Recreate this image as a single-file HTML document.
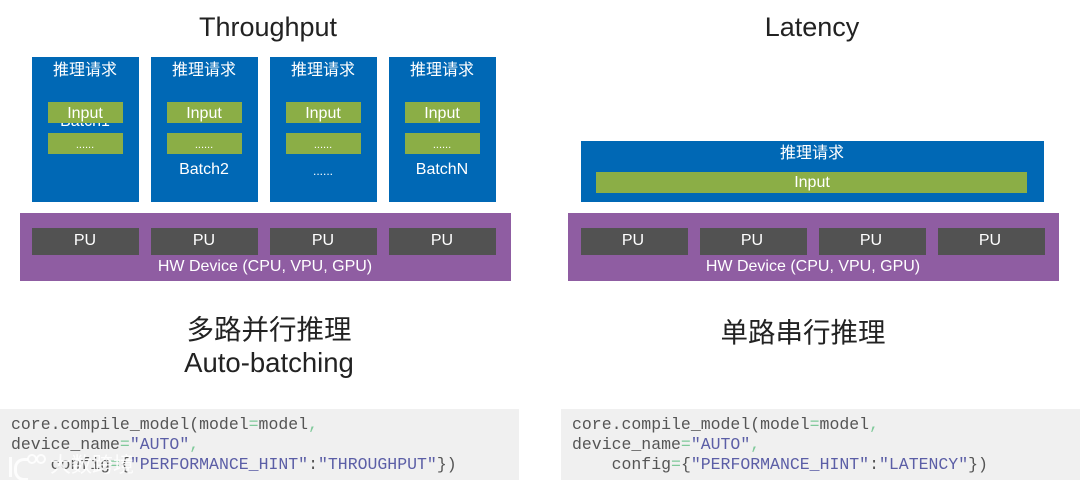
<!DOCTYPE html>
<html><head><meta charset="utf-8">
<style>
html,body{margin:0;padding:0;background:#fff}
#p{position:relative;width:1080px;height:484px;overflow:hidden;background:#fff;font-family:"Liberation Sans","Noto Sans CJK SC",sans-serif;filter:blur(.35px)}
.a{position:absolute}
.t{position:absolute;text-align:center;white-space:nowrap;transform:translateX(-50%)}
.b{position:absolute;background:#0068b5}
.g{position:absolute;background:#8bae46}
.u{position:absolute;background:#525252;top:228px;width:107px;height:27px}
.v{position:absolute;background:#8f5da2;top:213px;width:491px;height:68px}
.w{color:#fff;font-size:16px;line-height:20px}
.c{position:absolute;background:#f0f0f0;top:409px;width:519px;height:71px}
.code{position:absolute;font:16.5px/20px "Liberation Mono",monospace;color:#555;white-space:pre}
.n{color:#5b5ea6}.e{color:#7fc99a}
</style></head><body><div id="p">
<div class="t" style="left:268px;top:10px;font-size:27px;line-height:34px;color:#222">Throughput</div>
<div class="t" style="left:812px;top:10px;font-size:27px;line-height:34px;color:#222">Latency</div>

<div class="b" style="left:32px;top:57px;width:107px;height:145px"></div>
<div class="b" style="left:151px;top:57px;width:107px;height:145px"></div>
<div class="b" style="left:270px;top:57px;width:107px;height:145px"></div>
<div class="b" style="left:389px;top:57px;width:107px;height:145px"></div>
<div class="t w" style="left:85px;top:61px">推理请求</div>
<div class="t w" style="left:204px;top:61px">推理请求</div>
<div class="t w" style="left:323px;top:61px">推理请求</div>
<div class="t w" style="left:442px;top:61px">推理请求</div>

<div class="t w" style="left:85px;top:112px;font-size:16px">Batch1</div>
<div class="g" style="left:48px;top:102px;width:75px;height:21px"></div>
<div class="g" style="left:167px;top:102px;width:75px;height:21px"></div>
<div class="g" style="left:286px;top:102px;width:75px;height:21px"></div>
<div class="g" style="left:405px;top:102px;width:75px;height:21px"></div>
<div class="g" style="left:48px;top:133px;width:75px;height:21px"></div>
<div class="g" style="left:167px;top:133px;width:75px;height:21px"></div>
<div class="g" style="left:286px;top:133px;width:75px;height:21px"></div>
<div class="g" style="left:405px;top:133px;width:75px;height:21px"></div>
<div class="t w" style="left:85px;top:104px;font-size:16px">Input</div>
<div class="t w" style="left:204px;top:104px;font-size:16px">Input</div>
<div class="t w" style="left:323px;top:104px;font-size:16px">Input</div>
<div class="t w" style="left:442px;top:104px;font-size:16px">Input</div>
<div class="t w" style="left:85px;top:135px;font-size:11px">......</div>
<div class="t w" style="left:204px;top:135px;font-size:11px">......</div>
<div class="t w" style="left:323px;top:135px;font-size:11px">......</div>
<div class="t w" style="left:442px;top:135px;font-size:11px">......</div>
<div class="t w" style="left:204px;top:160px;font-size:16px">Batch2</div>
<div class="t w" style="left:323px;top:161px;font-size:12px">......</div>
<div class="t w" style="left:442px;top:160px;font-size:16px">BatchN</div>

<div class="b" style="left:581px;top:141px;width:463px;height:61px"></div>
<div class="g" style="left:596px;top:172px;width:431px;height:21px"></div>
<div class="t w" style="left:812px;top:144px">推理请求</div>
<div class="t w" style="left:812px;top:173px;font-size:16px">Input</div>

<div class="v" style="left:20px"></div>
<div class="v" style="left:568px"></div>
<div class="u" style="left:32px"></div>
<div class="u" style="left:151px"></div>
<div class="u" style="left:270px"></div>
<div class="u" style="left:389px"></div>
<div class="u" style="left:581px"></div>
<div class="u" style="left:700px"></div>
<div class="u" style="left:819px"></div>
<div class="u" style="left:938px"></div>
<div class="t w" style="left:85px;top:231px">PU</div>
<div class="t w" style="left:204px;top:231px">PU</div>
<div class="t w" style="left:323px;top:231px">PU</div>
<div class="t w" style="left:442px;top:231px">PU</div>
<div class="t w" style="left:633px;top:231px">PU</div>
<div class="t w" style="left:752px;top:231px">PU</div>
<div class="t w" style="left:871px;top:231px">PU</div>
<div class="t w" style="left:990px;top:231px">PU</div>
<div class="t w" style="left:265px;top:257px;font-size:16px">HW Device (CPU, VPU, GPU)</div>
<div class="t w" style="left:813px;top:257px;font-size:16px">HW Device (CPU, VPU, GPU)</div>

<div class="t" style="left:269px;top:311px;font-size:27.5px;line-height:38px;color:#222">多路并行推理</div>
<div class="t" style="left:269px;top:346px;font-size:27.5px;line-height:34px;color:#222">Auto-batching</div>
<div class="t" style="left:803px;top:314px;font-size:27.5px;line-height:38px;color:#222">单路串行推理</div>

<div class="c" style="left:0"></div>
<div class="c" style="left:561px"></div>
<div class="code" style="left:11px;top:415px">core.compile_model(model<span class="e">=</span>model<span class="e">,</span>
device_name<span class="e">=</span><span class="n">"AUTO"</span><span class="e">,</span>
    config<span class="e">=</span>{<span class="n">"PERFORMANCE_HINT"</span>:<span class="n">"THROUGHPUT"</span>})</div>
<div class="code" style="left:572px;top:415px">core.compile_model(model<span class="e">=</span>model<span class="e">,</span>
device_name<span class="e">=</span><span class="n">"AUTO"</span><span class="e">,</span>
    config<span class="e">=</span>{<span class="n">"PERFORMANCE_HINT"</span>:<span class="n">"LATENCY"</span>})</div>
<div class="t" style="left:92px;top:452px;font-size:21px;line-height:28px;color:rgba(255,255,255,.85)">大数跨境</div>
<div class="a" style="left:9px;top:457px;width:3px;height:20px;background:rgba(255,255,255,.85)"></div>
<div class="a" style="left:14px;top:458px;width:11px;height:17px;border:3px solid rgba(255,255,255,.85);border-right:none;border-radius:10px 0 0 10px"></div>
<div class="a" style="left:27px;top:454px;width:6px;height:6px;border:2px solid rgba(255,255,255,.85);border-radius:50%"></div>
<div class="a" style="left:36px;top:454px;width:6px;height:6px;border:2px solid rgba(255,255,255,.85);border-radius:50%"></div>
</div></body></html>
